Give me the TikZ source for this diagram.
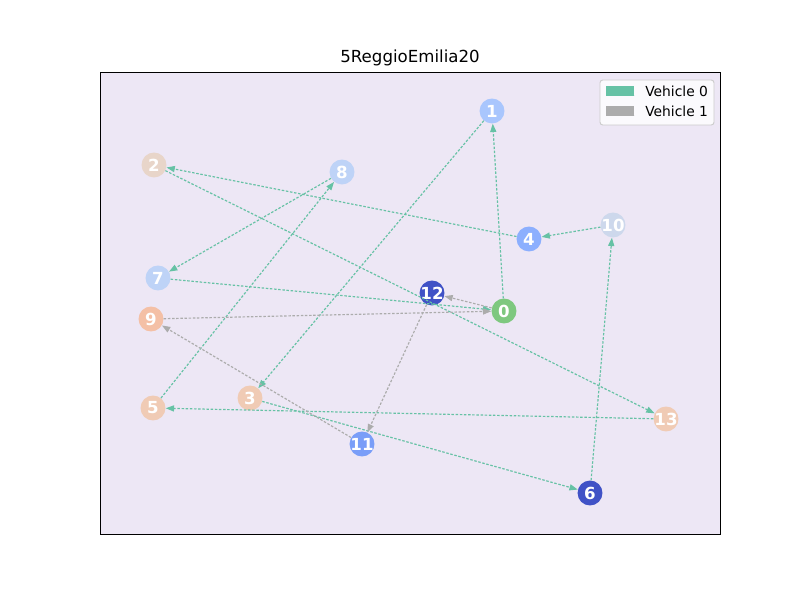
\documentclass[tikz,border=0pt]{standalone}
\usepackage{fontspec}
\setmainfont{DejaVu Sans}
\usetikzlibrary{arrows.meta}
\definecolor{bgc}{HTML}{EDE7F5}
\definecolor{vzero}{HTML}{66C2A5}
\definecolor{vone}{HTML}{ACACAC}
\definecolor{cgreen}{HTML}{7EC87F}
\definecolor{cdeep}{HTML}{4052C6}
\definecolor{cmid}{HTML}{7A9EF8}
\definecolor{cfour}{HTML}{8CAFFE}
\definecolor{cone}{HTML}{A9C6FD}
\definecolor{cseven}{HTML}{BED3F7}
\definecolor{cten}{HTML}{CDD8EC}
\definecolor{ctwo}{HTML}{E8D5C9}
\definecolor{cthree}{HTML}{F0CBB5}
\definecolor{cnine}{HTML}{F4C0A6}
\tikzset{
  city/.style={circle, minimum size=18pt, inner sep=0pt, text=white,
    font=\fontsize{12}{12}\selectfont\bfseries},
  routezero/.style={vzero, line width=0.85pt, dash pattern=on 1.8pt off 1.2pt,
    -{Triangle[length=6pt,width=4.4pt]}},
  routeone/.style={vone, line width=0.85pt, dash pattern=on 1.8pt off 1.2pt,
    -{Triangle[length=6pt,width=4.4pt]}},
  legtext/.style={anchor=west, inner sep=0pt, font=\fontsize{10}{10}\selectfont},
}
\newcommand{\lbl}[1]{\makebox[0pt]{#1}}
\begin{document}
\begin{tikzpicture}[x=0.01in,y=-0.01in]
\useasboundingbox[fill=white] (0,0) rectangle (800,600);
\fill[bgc] (100,72) rectangle (720,534);
\node[font=\fontsize{12}{12}\selectfont] (title) at (410,58) {5ReggioEmilia20};

\node[city, fill=cgreen] (n0) at (504,311) {\lbl{0}};
\node[city, fill=cone] (n1) at (492,111) {\lbl{1}};
\node[city, fill=ctwo] (n2) at (154,165) {\lbl{2}};
\node[city, fill=cthree] (n3) at (250,398) {\lbl{3}};
\node[city, fill=cfour] (n4) at (529,239) {\lbl{4}};
\node[city, fill=cthree] (n5) at (153,408) {\lbl{5}};
\node[city, fill=cdeep] (n6) at (590,493) {\lbl{6}};
\node[city, fill=cseven] (n7) at (158,278) {\lbl{7}};
\node[city, fill=cseven] (n8) at (342,172) {\lbl{8}};
\node[city, fill=cnine] (n9) at (151,319) {\lbl{9}};
\node[city, fill=cten] (n10) at (613,225) {\lbl{10}};
\node[city, fill=cmid] (n11) at (362,444) {\lbl{11}};
\node[city, fill=cdeep] (n12) at (432,293) {\lbl{12}};
\node[city, fill=cthree] (n13) at (666,419) {\lbl{13}};

\draw[routezero] (n0) -- (n1);
\draw[routezero] (n1) -- (n3);
\draw[routezero] (n3) -- (n6);
\draw[routezero] (n6) -- (n10);
\draw[routezero] (n10) -- (n4);
\draw[routezero] (n4) -- (n2);
\draw[routezero] (n2) -- (n13);
\draw[routezero] (n13) -- (n5);
\draw[routezero] (n5) -- (n8);
\draw[routezero] (n8) -- (n7);
\draw[routezero] (n7) -- (n0);

\draw[routeone] (n0) -- (n12);
\draw[routeone] (n12) -- (n11);
\draw[routeone] (n11) -- (n9);
\draw[routeone] (n9) -- (n0);

\draw[black, line width=0.7pt] (100,72) rectangle (720,534);

\draw[rounded corners=2pt, fill=white, fill opacity=0.8, draw=black!20, line width=0.7pt] (600,80) rectangle (714,125);
\node[draw=vzero, fill=vzero, dash pattern=on 1.2pt off 1pt, line width=0.6pt, minimum width=20pt, minimum height=7pt, inner sep=0pt] (pzero) at (620,91) {};
\node[draw=vone, fill=vone, dash pattern=on 1.2pt off 1pt, line width=0.6pt, minimum width=20pt, minimum height=7pt, inner sep=0pt] (pone) at (620,111) {};
\node[legtext] (lzero) at (645,91) {Vehicle 0};
\node[legtext] (lone) at (645,111) {Vehicle 1};
\end{tikzpicture}
\end{document}
